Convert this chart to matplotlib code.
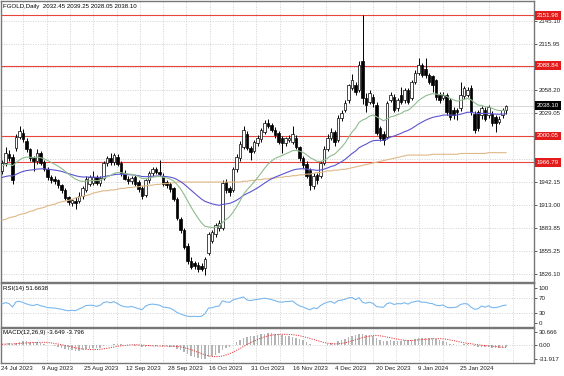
import numpy as np
import pandas as pd
import matplotlib
matplotlib.use("Agg")
import matplotlib.pyplot as plt

# ---------------- data ----------------
opens = [1956, 1966, 1977, 1973, 1985, 1999, 2004, 1994, 1983, 1972,
         1968, 1978, 1967, 1959, 1948, 1946, 1944, 1938, 1932, 1923,
         1916, 1918, 1918, 1924, 1932, 1940, 1941, 1948, 1941, 1947,
         1966, 1972, 1967, 1974, 1966, 1954, 1946, 1943, 1948, 1942,
         1934, 1926, 1944, 1953, 1958, 1955, 1950, 1942, 1940, 1934,
         1921, 1895, 1881, 1862, 1843, 1840, 1838, 1836, 1834, 1852,
         1868, 1876, 1884, 1884, 1942, 1934, 1932, 1958, 1972, 1986,
         2003, 1985, 1981, 1991, 1996, 2005, 2017, 2014, 2008, 2004,
         1998, 1991, 1995, 1993, 1998, 1986, 1972, 1965, 1957, 1937,
         1951, 1950, 1966, 1984, 1998, 2005, 1995, 2023, 2033, 2045,
         2061, 2064, 2058, 2094, 2048, 2043, 2049, 2039, 2010, 2003,
         1999, 2046, 2049, 2035, 2052, 2045, 2058, 2048, 2068, 2080,
         2089, 2085, 2077, 2075, 2070, 2052, 2048, 2052, 2045, 2033,
         2033, 2035, 2050, 2052, 2060, 2028, 2030, 2026, 2033, 2026,
         2028, 2024, 2018, 2026, 2032.45]
highs = [1970, 1986, 1982, 1977, 2002, 2013, 2009, 1997, 1985, 1975,
         1984, 1981, 1970, 1961, 1951, 1950, 1946, 1940, 1934, 1925,
         1921, 1923, 1929, 1937, 1949, 1951, 1956, 1951, 1950, 1968,
         1975, 1979, 1979, 1977, 1968, 1957, 1950, 1950, 1951, 1945,
         1937, 1946, 1956, 1961, 1961, 1970, 1953, 1945, 1942, 1936,
         1923, 1898, 1884, 1865, 1847, 1843, 1841, 1840, 1848, 1879,
         1882, 1890, 1894, 1944, 1946, 1937, 1961, 1977, 1994, 2013,
         2006, 1988, 1995, 2001, 2010, 2020, 2022, 2017, 2011, 2006,
         2000, 1999, 2001, 2013, 2001, 1988, 1975, 1968, 1960, 1953,
         1954, 1968, 1987, 2003, 2010, 2008, 2026, 2033, 2045, 2066,
         2078, 2068, 2094, 2152, 2054, 2058, 2053, 2043, 2012, 2006,
         2044, 2056, 2053, 2048, 2062, 2060, 2061, 2071, 2083, 2098,
         2092, 2098, 2080, 2077, 2072, 2055, 2055, 2054, 2048, 2036,
         2035, 2068, 2063, 2062, 2064, 2031, 2033, 2038, 2036, 2039,
         2031, 2026, 2025, 2035, 2039.25]
lows = [1952, 1962, 1968, 1940, 1981, 1996, 1993, 1980, 1969, 1956,
        1965, 1963, 1956, 1945, 1941, 1939, 1934, 1928, 1919, 1913,
        1912, 1908, 1915, 1921, 1930, 1937, 1938, 1938, 1937, 1944,
        1962, 1963, 1964, 1962, 1950, 1944, 1940, 1939, 1937, 1930,
        1921, 1923, 1941, 1950, 1952, 1949, 1937, 1935, 1930, 1918,
        1894, 1878, 1857, 1839, 1832, 1833, 1829, 1830, 1825, 1850,
        1865, 1873, 1880, 1881, 1928, 1925, 1929, 1955, 1969, 1983,
        1982, 1970, 1978, 1988, 1993, 2002, 2010, 2005, 1998, 1990,
        1978, 1987, 1992, 1990, 1983, 1969, 1960, 1947, 1932, 1933,
        1940, 1947, 1963, 1981, 1995, 1988, 1992, 2019, 2030, 2042,
        2058, 2052, 2055, 2040, 2030, 2040, 2037, 2001, 1994, 1989,
        1996, 2043, 2030, 2031, 2040, 2041, 2040, 2045, 2065, 2077,
        2074, 2073, 2065, 2055, 2046, 2042, 2045, 2027, 2020, 2022,
        2020, 2032, 2047, 2049, 2027, 2004, 2006, 2022, 2019, 2023,
        2013, 2005, 2015, 2023, 2028.05]
closes = [1966, 1978, 1972, 1944, 1999, 2006, 1996, 1983, 1972, 1968,
          1979, 1966, 1959, 1948, 1945, 1943, 1938, 1932, 1922, 1917,
          1919, 1916, 1925, 1934, 1946, 1948, 1948, 1941, 1947, 1966,
          1972, 1967, 1976, 1965, 1953, 1946, 1943, 1947, 1940, 1933,
          1924, 1944, 1954, 1958, 1955, 1952, 1940, 1938, 1933, 1921,
          1897, 1881, 1860, 1842, 1835, 1836, 1832, 1833, 1845, 1877,
          1879, 1888, 1891, 1941, 1932, 1930, 1958, 1974, 1990, 2008,
          1985, 1980, 1992, 1998, 2008, 2017, 2013, 2008, 2001, 1993,
          1991, 1997, 1998, 2002, 1986, 1972, 1963, 1950, 1938, 1950,
          1944, 1966, 1984, 1998, 2005, 1992, 2023, 2029, 2041, 2064,
          2070, 2055, 2089, 2048, 2039, 2054, 2041, 2004, 1997, 1995,
          2041, 2052, 2033, 2045, 2043, 2058, 2043, 2068, 2080, 2089,
          2077, 2077, 2068, 2064, 2049, 2045, 2052, 2030, 2024, 2026,
          2030, 2052, 2060, 2058, 2030, 2007, 2010, 2035, 2022, 2036,
          2016, 2016, 2022, 2033, 2038.10]

# slow moving average
slow_ma = [1894, 1895, 1897, 1898, 1899, 1901, 1902, 1903, 1905, 1906,
           1908, 1909, 1910, 1912, 1913, 1914, 1916, 1917, 1918, 1919,
           1920, 1922, 1923, 1924, 1925, 1926, 1928, 1929, 1930, 1931,
           1931, 1932, 1932, 1933, 1934, 1934, 1935, 1935, 1936, 1936,
           1937, 1937, 1938, 1938, 1939, 1939, 1940, 1940, 1941, 1941,
           1942, 1942, 1942, 1942, 1942, 1942, 1942, 1942, 1942, 1942,
           1942, 1942, 1942, 1942, 1942, 1942, 1942, 1942, 1942, 1943,
           1943, 1944, 1944, 1945, 1945, 1946, 1946, 1947, 1947, 1948,
           1948, 1949, 1949, 1950, 1950, 1951, 1951, 1952, 1952, 1953,
           1954, 1954, 1955, 1956, 1956, 1957, 1957, 1958, 1958, 1959,
           1960, 1961, 1962, 1963, 1964, 1965, 1966, 1967, 1968, 1969,
           1970, 1971, 1972, 1973, 1974, 1975, 1976, 1976, 1976, 1976,
           1976, 1976, 1976, 1977, 1977, 1977, 1977, 1977, 1977, 1977,
           1977, 1978, 1978, 1978, 1978, 1978, 1978, 1978, 1978, 1979,
           1979, 1979, 1979, 1979, 1979]

# indicator starting states (before first visible bar)
fast_ma_seed = 1962.0
mid_ma_seed = 1947.0
rsi_seed_gain = 6.0
rsi_seed_loss = 5.0
macd_seed_fast = 1957.0
macd_seed_slow = 1955.0

levels = [2151.98, 2088.84, 2000.05, 1966.79]
level_labels = ["2151.98", "2088.84", "2000.05", "1966.79"]
price_ticks = [1826.10, 1855.25, 1883.85, 1913.00, 1942.15, 1971.30,
               2000.20, 2029.05, 2058.20, 2087.35, 2115.95, 2145.10]
# labels hidden behind the level boxes are left blank
price_tick_labels = ["1826.10", "1855.25", "1883.85", "1913.00", "1942.15", "",
                     "", "2029.05", "2058.20", "", "2115.95", "2145.10"]
last_price = 2038.10
date_labels = ["24 Jul 2023", "9 Aug 2023", "25 Aug 2023", "12 Sep 2023",
               "28 Sep 2023", "16 Oct 2023", "31 Oct 2023", "16 Nov 2023",
               "4 Dec 2023", "20 Dec 2023", "9 Jan 2024", "25 Jan 2024"]
title = "FGOLD,Daily  2032.45 2039.25 2028.05 2038.10"
rsi_title = "RSI(14) 51.6638"
macd_title = "MACD(12,26,9) -3.649 -3.796"

# ---------------- indicators ----------------
cl = pd.Series(closes, dtype=float)
fast_ma = pd.Series([fast_ma_seed] + closes).ewm(span=20, adjust=False).mean().iloc[1:].values
mid_ma = pd.Series([mid_ma_seed] + closes).ewm(span=50, adjust=False).mean().iloc[1:].values

delta = cl.diff().fillna(0.0)
gain = pd.Series([rsi_seed_gain] + list(delta.clip(lower=0)))
loss = pd.Series([rsi_seed_loss] + list((-delta).clip(lower=0)))
ag = gain.ewm(alpha=1 / 14, adjust=False).mean().iloc[1:].values
al = loss.ewm(alpha=1 / 14, adjust=False).mean().iloc[1:].values
rsi = 100 - 100 / (1 + ag / al)

ema_f = pd.Series([macd_seed_fast] + closes).ewm(span=12, adjust=False).mean().iloc[1:].values
ema_s = pd.Series([macd_seed_slow] + closes).ewm(span=26, adjust=False).mean().iloc[1:].values
macd = ema_f - ema_s
signal = pd.Series(macd).rolling(9, min_periods=1).mean().values

# ---------------- layout ----------------
W, H = 564, 376
FONT = "Liberation Sans"
FS = 4.4
plt.rcParams["font.family"] = [FONT, "DejaVu Sans"]

fig = plt.figure(figsize=(W / 100, H / 100), dpi=100)
fig.patch.set_facecolor("white")


def rect(x0, y0, x1, y1):
    return [x0 / W, 1 - y1 / H, (x1 - x0) / W, (y1 - y0) / H]


ax = fig.add_axes(rect(0.5, 0.5, 534, 281.5))
ax_rsi = fig.add_axes(rect(0.5, 282.8, 534, 326.5))
ax_macd = fig.add_axes(rect(0.5, 327.8, 534, 363))

BAR_PX = 3.5
X0_PX = 2.0
xlim = ((0.5 - X0_PX) / BAR_PX, (534 - X0_PX) / BAR_PX)
PX_PER_USD = 0.7935
ylim_main = (1826.1 - 7.5 / PX_PER_USD, 1826.1 + 273.5 / PX_PER_USD)

idx = np.arange(len(closes))
o = np.array(opens, float)
h = np.array(highs, float)
l = np.array(lows, float)
c = np.array(closes, float)

grid_kw = dict(color="#c4c4c4", lw=0.5, linestyle=(0, (1.5, 2.0)), zorder=0)
vgrid_px = np.arange(23.3, 534, 23.3)
vgrid = (vgrid_px - X0_PX) / BAR_PX

for a in (ax, ax_rsi, ax_macd):
    a.set_xlim(*xlim)
    for s in a.spines.values():
        s.set_color("#777777")
        s.set_linewidth(1.0)
    for v in vgrid:
        a.axvline(v, **grid_kw)
    a.yaxis.tick_right()
    a.tick_params(axis="y", length=2, width=0.5, labelsize=FS, pad=1.2,
                  colors="#202020")
    a.tick_params(axis="x", length=0, labelbottom=False)

# ---- main panel
ax.set_ylim(*ylim_main)
ax.set_yticks(price_ticks)
ax.set_yticklabels(price_tick_labels)
for t in price_ticks:
    ax.axhline(t, **grid_kw)

for lv in levels:
    ax.axhline(lv, color="#e8443c", lw=0.8, zorder=1)
ax.axhline(last_price, color="#c8c8c8", lw=0.5, zorder=1)

up = c >= o
body_lo = np.minimum(o, c)
body_h = np.maximum(np.abs(c - o), 0.7)
ax.vlines(idx, l, h, color="black", lw=0.7, zorder=2)
ax.bar(idx[up], body_h[up], bottom=body_lo[up], width=0.62, facecolor="white",
       edgecolor="black", linewidth=0.5, zorder=3)
ax.bar(idx[~up], body_h[~up], bottom=body_lo[~up], width=0.62, facecolor="black",
       edgecolor="black", linewidth=0.5, zorder=3)

ax.plot(idx, slow_ma, color="#deb887", lw=0.8, zorder=4)
ax.plot(idx, mid_ma, color="#5b55d0", lw=0.8, zorder=4)
ax.plot(idx, fast_ma, color="#8fbc8f", lw=0.8, zorder=4)

ytr = ax.get_yaxis_transform()
for lv, lab in zip(levels, level_labels):
    ax.text(1.0055, lv, lab, transform=ytr, fontsize=FS, color="white",
            va="center", ha="left", zorder=10, clip_on=False,
            bbox=dict(boxstyle="square,pad=0.32", fc="#e41b1b", ec="none"))
ax.text(1.0055, last_price, f"{last_price:.2f}", transform=ytr, fontsize=FS,
        color="white", va="center", ha="left", zorder=10, clip_on=False,
        bbox=dict(boxstyle="square,pad=0.32", fc="black", ec="none"))

ax.text(0.004, 0.978, title, transform=ax.transAxes, fontsize=FS,
        color="black", va="center", ha="left")

# ---- RSI panel
ax_rsi.set_ylim(-8.6, 114)
ax_rsi.set_yticks([0, 30, 70, 100])
ax_rsi.set_yticklabels(["0", "30", "70", "100"])
for lv in (30, 70):
    ax_rsi.axhline(lv, **grid_kw)
ax_rsi.plot(idx, rsi, color="#7ab8ee", lw=0.8, zorder=3)
ax_rsi.text(0.004, 0.87, rsi_title, transform=ax_rsi.transAxes, fontsize=FS,
            va="center", ha="left")

# ---- MACD panel
ax_macd.set_ylim(-40.5, 40.6)
ax_macd.set_yticks([30.666, 0.0, -31.917])
ax_macd.set_yticklabels(["30.666", "0.00", "-31.917"])
ax_macd.axhline(0, **grid_kw)
ax_macd.bar(idx, macd, width=0.3, color="#b4b4b4", zorder=2)
ax_macd.plot(idx, signal, color="#e03c3c", lw=0.7, linestyle=(0, (1.2, 1.2)), zorder=3)
ax_macd.text(0.004, 0.86, macd_title, transform=ax_macd.transAxes, fontsize=FS,
             va="center", ha="left")

date_px = 0.7 + 41.75 * np.arange(len(date_labels))
ax_macd.set_xticks((date_px - X0_PX) / BAR_PX)
ax_macd.set_xticklabels(date_labels)
ax_macd.tick_params(axis="x", length=0, labelbottom=True, labelsize=FS, pad=2.5,
                    colors="#202020")
for lab in ax_macd.get_xticklabels():
    lab.set_ha("left")

fig.savefig("out.png", dpi=100, facecolor="white")
